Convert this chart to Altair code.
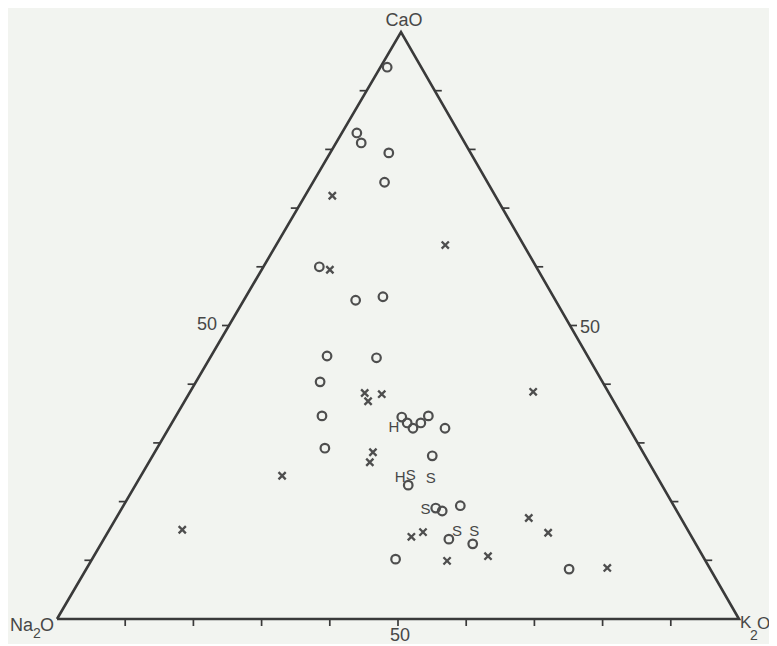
import altair as alt
import pandas as pd

# Ternary compositions (%), Na2O = 100 - CaO - K2O
circle_cao = [94.0, 82.8, 81.1, 79.4, 74.4, 60.0, 54.3, 54.9, 44.8, 44.5, 40.4, 34.6, 29.1,
              34.4, 33.4, 32.5, 33.4, 34.6, 32.5, 27.8, 22.8, 18.9, 18.4, 19.3, 13.6, 12.8, 10.2, 8.5]
circle_k2o = [1.0, 2.2, 3.7, 8.6, 10.5, 8.2, 16.4, 20.1, 17.0, 24.4, 18.2, 21.4, 24.6,
              33.2, 34.5, 35.8, 36.5, 37.0, 40.5, 41.0, 40.0, 46.0, 47.2, 49.4, 50.6, 54.5, 44.5, 70.8]
cross_cao = [72.1, 63.7, 59.5, 38.5, 37.1, 38.3, 28.4, 26.7, 24.4, 15.2, 38.7, 17.2, 14.7,
             14.0, 14.8, 9.9, 10.7, 8.7]
cross_k2o = [4.0, 24.8, 10.0, 25.7, 26.9, 28.3, 32.0, 32.4, 20.7, 10.7, 50.3, 60.5, 64.6,
             44.9, 46.2, 52.2, 57.8, 76.3]
h_cao = [32.7, 24.2]
h_k2o = [32.9, 38.1]
s_cao = [24.5, 24.0, 18.7, 15.0, 15.0]
s_k2o = [39.5, 42.7, 44.6, 51.1, 53.6]
tick_values = [10, 20, 30, 40, 50, 60, 70, 80, 90]
mid_label = "50"

# geometry
W, H = 761, 636
PX_X, PX_Y = 6.82, 5.87          # pixels per percent
X0, Y0 = 49, 611                 # Na2O corner in chart pixels
APEX = 344 / 682                 # horizontal position of the CaO apex along the base
TICK = 7                         # tick length in pixels

def tx(cao, k2o):
    return k2o + APEX * cao

xs = alt.Scale(domain=[-X0 / PX_X, (W - X0) / PX_X], nice=False, zero=False)
ys = alt.Scale(domain=[(Y0 - H) / PX_Y, Y0 / PX_Y], nice=False, zero=False)

def pts(cao, k2o):
    return pd.DataFrame({"X": [tx(c, k) for c, k in zip(cao, k2o)], "Y": cao})

ink = "#3a3a3a"
grey = "#4e4e4e"
tcol = "#474747"
font = "Liberation Sans"

X = alt.X("X:Q", scale=xs, axis=None)
Y = alt.Y("Y:Q", scale=ys, axis=None)

# triangle outline
tri = pd.DataFrame({"X": [tx(0, 0), tx(0, 100), tx(100, 0), tx(0, 0)],
                    "Y": [0, 0, 100, 0], "o": [0, 1, 2, 3]})
outline = alt.Chart(tri).mark_line(color=ink, strokeWidth=2.6, strokeJoin="miter").encode(
    x=X, y=Y, order="o:O")

# ticks
rows = []
for t in tick_values:
    rows.append({"X": tx(0, t), "Y": 0, "X2": tx(0, t), "Y2": -TICK / PX_Y})            # base
    rows.append({"X": tx(t, 0), "Y": t, "X2": tx(t, 0) - TICK / PX_X, "Y2": t})          # left
    rows.append({"X": tx(t, 100 - t), "Y": t, "X2": tx(t, 100 - t) + TICK / PX_X, "Y2": t})  # right
ticks = alt.Chart(pd.DataFrame(rows)).mark_rule(color=ink, strokeWidth=1.7).encode(
    x=X, y=Y, x2="X2:Q", y2="Y2:Q")

circles = alt.Chart(pts(circle_cao, circle_k2o)).mark_point(
    shape="circle", size=74, filled=False, stroke=grey, strokeWidth=2.2, opacity=1).encode(x=X, y=Y)
crosses = alt.Chart(pts(cross_cao, cross_k2o)).mark_point(
    shape="M-1,-1L1,1M-1,1L1,-1", size=52, filled=False, stroke=grey, strokeWidth=2.3,
    opacity=1).encode(x=X, y=Y)
hs = alt.Chart(pts(h_cao, h_k2o).assign(t="H")).mark_text(
    font=font, fontSize=15, color=tcol).encode(x=X, y=Y, text="t:N")
ss = alt.Chart(pts(s_cao, s_k2o).assign(t="S")).mark_text(
    font=font, fontSize=15, color=tcol).encode(x=X, y=Y, text="t:N")

def label(cao, k2o, text, dx, dy, size=18, align="left", baseline="alphabetic"):
    df = pd.DataFrame({"X": [tx(cao, k2o)], "Y": [cao], "t": [text]})
    return alt.Chart(df).mark_text(font=font, fontSize=size, color=tcol, align=align,
                                   baseline=baseline, dx=dx, dy=dy).encode(x=X, y=Y, text="t:N")

labels = [
    # Na2O
    label(0, 0, "Na", -24, 12, 18, "right"),
    label(0, 0, "2", -24, 19, 14, "left"),
    label(0, 0, "O", -17, 12, 18, "left"),
    # K2O
    label(0, 100, "K", 1, 9, 17, "left"),
    label(0, 100, "2", 11, 21, 14, "left"),
    label(0, 100, "O", 18, 10, 17, "left"),
    # CaO
    label(100, 0, "CaO", 3, -6, 18, "center"),
    # 50 labels
    label(50, 0, mid_label, -22, -1, 18, "center", "middle"),
    label(50, 50, mid_label, 20, 2, 18, "center", "middle"),
    label(0, 50, mid_label, 2, 17, 18, "center", "middle"),
]

chart = alt.layer(outline, ticks, circles, crosses, hs, ss, *labels).properties(
    width=W, height=H, padding=0, autosize=alt.AutoSizeParams(type="none"),
    background="#f2f4f0"
).configure_view(stroke=None)

chart.save("out.html", embed_options={"renderer": "svg", "actions": False})
